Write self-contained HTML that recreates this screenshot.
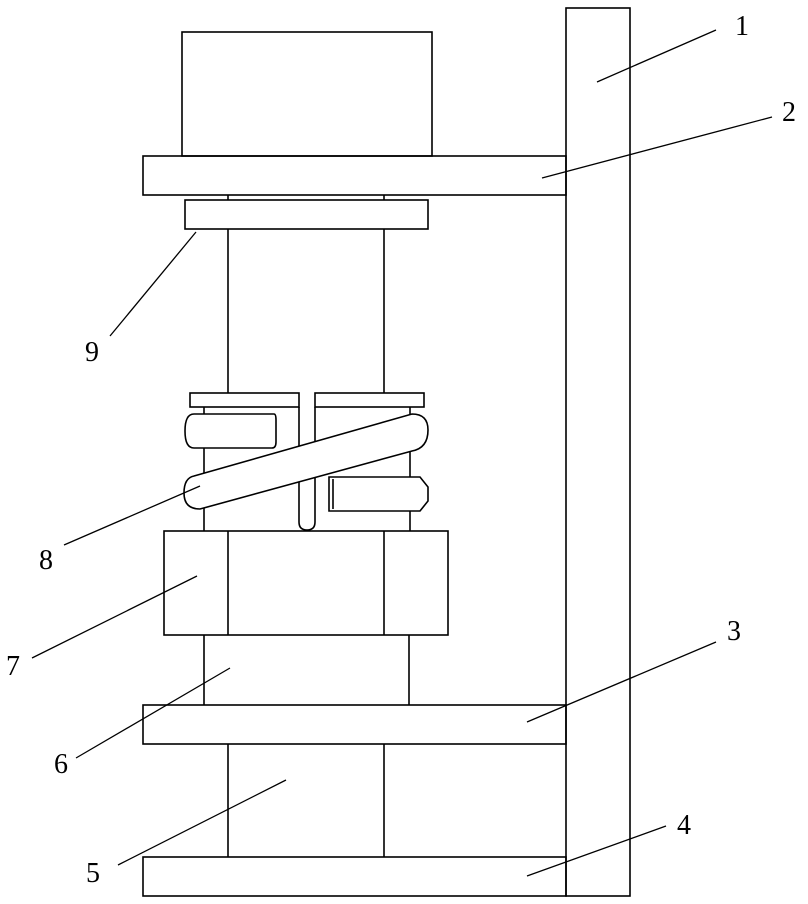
<!DOCTYPE html>
<html><head><meta charset="utf-8"><style>html,body{margin:0;padding:0;background:#fff}svg{display:block}</style></head>
<body>
<svg width="808" height="904" viewBox="0 0 808 904" xmlns="http://www.w3.org/2000/svg" fill="none" stroke="#000" stroke-width="1.6">
<rect x="0" y="0" width="808" height="904" fill="#fff" stroke="none"/>
<!-- vertical bar 1 -->
<rect x="566" y="8" width="64" height="888"/>
<!-- top box -->
<rect x="182" y="32" width="250" height="124"/>
<!-- plate 2 -->
<rect x="143" y="156" width="423" height="39"/>
<!-- small connectors -->
<line x1="228" y1="195" x2="228" y2="200"/><line x1="384" y1="195" x2="384" y2="200"/>
<!-- plate 9 -->
<rect x="185" y="200" width="243" height="29"/>
<!-- rods -->
<line x1="228" y1="229" x2="228" y2="393"/><line x1="384" y1="229" x2="384" y2="393"/>
<!-- upper plates -->
<rect x="190" y="393" width="109" height="14"/>
<rect x="315" y="393" width="109" height="14"/>
<!-- inner shaft -->
<line x1="204" y1="407" x2="204" y2="531"/><line x1="410" y1="407" x2="410" y2="531"/>
<!-- center slot -->
<path d="M299 407 V522 Q299 530 307 530 Q315 530 315 522 V407"/>
<!-- top left pad -->
<path d="M194 414 H274 Q276 414 276 420 V442 Q276 448 272 448 H194 Q185 448 185 431 Q185 414 194 414 Z" fill="#fff"/>
<!-- lower right pad -->
<path d="M329 477 H420 L428 487 V501 L420 511 H329 Z" fill="#fff"/>
<line x1="333" y1="479" x2="333" y2="509"/>
<!-- spring band -->
<path d="M194 476 L412 414 Q428 414 428 430 Q428 448 412 451 L200 509 Q184 509 184 493 Q184 478 194 476 Z" fill="#fff"/>
<!-- block 7 -->
<rect x="164" y="531" width="284" height="104"/>
<line x1="228" y1="531" x2="228" y2="635"/><line x1="384" y1="531" x2="384" y2="635"/>
<!-- column 6 -->
<line x1="204" y1="635" x2="204" y2="705"/><line x1="409" y1="635" x2="409" y2="705"/>
<!-- plate 3 -->
<rect x="143" y="705" width="423" height="39"/>
<!-- column 5 -->
<line x1="228" y1="744" x2="228" y2="857"/><line x1="384" y1="744" x2="384" y2="857"/>
<!-- plate 4 -->
<rect x="143" y="857" width="423" height="39"/>
<!-- leader lines -->
<g stroke-width="1.3">
<line x1="597" y1="82" x2="716" y2="30"/>
<line x1="542" y1="178" x2="772" y2="117"/>
<line x1="196" y1="232" x2="110" y2="336"/>
<line x1="200" y1="486" x2="64" y2="545"/>
<line x1="197" y1="576" x2="32" y2="658"/>
<line x1="230" y1="668" x2="76" y2="758"/>
<line x1="527" y1="722" x2="716" y2="642"/>
<line x1="286" y1="780" x2="118" y2="865"/>
<line x1="527" y1="876" x2="666" y2="826"/>
</g>
<g fill="#000" stroke="none" font-family="Liberation Serif, serif" font-size="28">
<text x="735" y="35">1</text>
<text x="782" y="121">2</text>
<text x="727" y="640">3</text>
<text x="677" y="834">4</text>
<text x="86" y="882">5</text>
<text x="54" y="773">6</text>
<text x="6" y="675">7</text>
<text x="39" y="569">8</text>
<text x="85" y="361">9</text>
</g>
</svg>
</body></html>
